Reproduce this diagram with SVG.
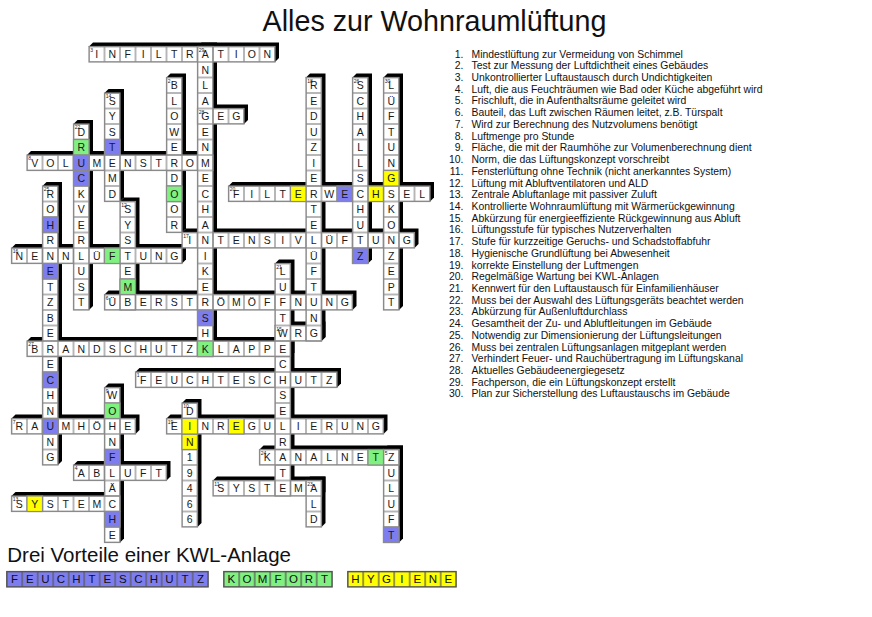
<svg xmlns="http://www.w3.org/2000/svg" width="872" height="617" viewBox="0 0 872 617">
<defs>
<pattern id="g" x="11.5" y="46.5" width="15.5" height="15.5" patternUnits="userSpaceOnUse"><rect width="15.5" height="15.5" fill="#fff" stroke="#8a8a8a" stroke-width="1.2"/></pattern>
<pattern id="lg" x="6.7" y="571.5" width="15.5" height="15.5" patternUnits="userSpaceOnUse"><rect width="15.5" height="15.5" fill="none" stroke="#555" stroke-width="1.2"/></pattern>
</defs>
<style>
.sh{fill:#000}
.w{fill:url(#g);stroke:#8a8a8a;stroke-width:1.2}
.b,.gr,.y{stroke:#8a8a8a;stroke-width:1.2}
.b{fill:#7d7df0}.gr{fill:#80f080}.y{fill:#ffff00}
.t{font-family:"Liberation Sans",Arial,sans-serif;font-size:10.5px;text-anchor:middle;fill:#1a1a1a}
.n{font-family:"Liberation Sans",Arial,sans-serif;font-size:5px;fill:#1a1a1a}
.cl{font-family:"Liberation Sans",Arial,sans-serif;font-size:10.4px;fill:#111}
.lgt{font-family:"Liberation Sans",Arial,sans-serif;font-size:11.5px;text-anchor:middle;fill:#111}
</style>
<rect width="872" height="617" fill="#fff"/>
<text x="434.5" y="31" font-family="Liberation Sans, Arial, sans-serif" font-size="28.7" text-anchor="middle" fill="#111">Alles zur Wohnraumlüftung</text>

<g id="shadows">
<path class="sh" d="M135.5 372l4-4h201.5v15.5l-4 4H135.5z"/>
<path class="sh" d="M166.5 77.5l4-4h15.5v155l-4 4H166.5z"/>
<path class="sh" d="M89 46.5l4-4h186v15.5l-4 4H89z"/>
<path class="sh" d="M73.5 465l4-4h93v15.5l-4 4H73.5z"/>
<path class="sh" d="M383.5 449.5l4-4h15.5v93l-4 4H383.5z"/>
<path class="sh" d="M104.5 294.5l4-4h248v15.5l-4 4H104.5z"/>
<path class="sh" d="M11.5 418.5l4-4h124v15.5l-4 4H11.5z"/>
<path class="sh" d="M27 155l4-4h186v15.5l-4 4H27z"/>
<path class="sh" d="M104.5 387.5l4-4h15.5v155l-4 4H104.5z"/>
<path class="sh" d="M182 403l4-4h15.5v124l-4 4H182z"/>
<path class="sh" d="M213 480.5l4-4h108.5v15.5l-4 4H213z"/>
<path class="sh" d="M120 201.5l4-4h15.5v108.5l-4 4H120z"/>
<path class="sh" d="M11.5 496l4-4h108.5v15.5l-4 4H11.5z"/>
<path class="sh" d="M104.5 93l4-4h15.5v108.5l-4 4H104.5z"/>
<path class="sh" d="M275 325.5l4-4h46.5v15.5l-4 4H275z"/>
<path class="sh" d="M11.5 248l4-4h170.5v15.5l-4 4H11.5z"/>
<path class="sh" d="M182 232.5l4-4h232.5v15.5l-4 4H182z"/>
<path class="sh" d="M306 77.5l4-4h15.5v263.5l-4 4H306z"/>
<path class="sh" d="M166.5 418.5l4-4h217v15.5l-4 4H166.5z"/>
<path class="sh" d="M228.5 186l4-4h201.5v15.5l-4 4H228.5z"/>
<path class="sh" d="M275 263.5l4-4h15.5v232.5l-4 4H275z"/>
<path class="sh" d="M73.5 124l4-4h15.5v186l-4 4H73.5z"/>
<path class="sh" d="M306 480.5l4-4h15.5v46.5l-4 4H306z"/>
<path class="sh" d="M259.5 449.5l4-4h139.5v15.5l-4 4H259.5z"/>
<path class="sh" d="M42.5 186l4-4h15.5v279l-4 4H42.5z"/>
<path class="sh" d="M352.5 77.5l4-4h15.5v186l-4 4H352.5z"/>
<path class="sh" d="M27 341l4-4h263.5v15.5l-4 4H27z"/>
<path class="sh" d="M197.5 108.5l4-4h46.5v15.5l-4 4H197.5z"/>
<path class="sh" d="M197.5 46.5l4-4h15.5v310l-4 4H197.5z"/>
<path class="sh" d="M383.5 77.5l4-4h15.5v232.5l-4 4H383.5z"/>
</g>

<g id="w1"><rect class="w" x="135.5" y="372" width="201.5" height="15.5"/><text class="t" x="143.25 158.75 174.25 189.75 205.25 220.75 236.25 251.75 267.25 282.75 298.25 313.75 329.25" y="383.5">FEUCHTESCHUTZ</text></g>
<g id="w2"><rect class="w" x="166.5" y="77.5" width="15.5" height="155"/><rect class="gr" x="166.5" y="186" width="15.5" height="15.5"/><text class="t" x="174.25 174.25 174.25 174.25 174.25 174.25 174.25 174.25 174.25 174.25" y="89 104.5 120 135.5 151 166.5 182 197.5 213 228.5">BLOWERDOOR</text></g>
<g id="w3"><rect class="w" x="89" y="46.5" width="186" height="15.5"/><text class="t" x="96.75 112.25 127.75 143.25 158.75 174.25 189.75 205.25 220.75 236.25 251.75 267.25" y="58">INFILTRATION</text></g>
<g id="w4"><rect class="w" x="73.5" y="465" width="93" height="15.5"/><text class="t" x="81.25 96.75 112.25 127.75 143.25 158.75" y="476.5">ABLUFT</text></g>
<g id="w5"><rect class="w" x="383.5" y="449.5" width="15.5" height="93"/><rect class="b" x="383.5" y="527" width="15.5" height="15.5"/><text class="t" x="391.25 391.25 391.25 391.25 391.25 391.25" y="461 476.5 492 507.5 523 538.5">ZULUFT</text></g>
<g id="w6"><rect class="w" x="104.5" y="294.5" width="248" height="15.5"/><text class="t" x="112.25 127.75 143.25 158.75 174.25 189.75 205.25 220.75 236.25 251.75 267.25 282.75 298.25 313.75 329.25 344.75" y="306">ÜBERSTRÖMÖFFNUNG</text></g>
<g id="w7"><rect class="w" x="11.5" y="418.5" width="124" height="15.5"/><rect class="b" x="42.5" y="418.5" width="15.5" height="15.5"/><text class="t" x="19.25 34.75 50.25 65.75 81.25 96.75 112.25 127.75" y="430">RAUMHÖHE</text></g>
<g id="w8"><rect class="w" x="27" y="155" width="186" height="15.5"/><rect class="b" x="73.5" y="155" width="15.5" height="15.5"/><text class="t" x="34.75 50.25 65.75 81.25 96.75 112.25 127.75 143.25 158.75 174.25 189.75 205.25" y="166.5">VOLUMENSTROM</text></g>
<g id="w9"><rect class="w" x="104.5" y="387.5" width="15.5" height="155"/><rect class="gr" x="104.5" y="403" width="15.5" height="15.5"/><rect class="b" x="104.5" y="449.5" width="15.5" height="15.5"/><rect class="b" x="104.5" y="511.5" width="15.5" height="15.5"/><text class="t" x="112.25 112.25 112.25 112.25 112.25 112.25 112.25 112.25 112.25 112.25" y="399 414.5 430 445.5 461 476.5 492 507.5 523 538.5">WOHNFLÄCHE</text></g>
<g id="w10"><rect class="w" x="182" y="403" width="15.5" height="124"/><rect class="y" x="182" y="418.5" width="15.5" height="15.5"/><rect class="y" x="182" y="434" width="15.5" height="15.5"/><text class="t" x="189.75 189.75 189.75 189.75 189.75 189.75 189.75 189.75" y="414.5 430 445.5 461 476.5 492 507.5 523">DIN19466</text></g>
<g id="w11"><rect class="w" x="213" y="480.5" width="108.5" height="15.5"/><text class="t" x="220.75 236.25 251.75 267.25 282.75 298.25 313.75" y="492">SYSTEMA</text></g>
<g id="w12"><rect class="w" x="120" y="201.5" width="15.5" height="108.5"/><rect class="gr" x="120" y="279" width="15.5" height="15.5"/><text class="t" x="127.75 127.75 127.75 127.75 127.75 127.75 127.75" y="213 228.5 244 259.5 275 290.5 306">SYSTEMB</text></g>
<g id="w13"><rect class="w" x="11.5" y="496" width="108.5" height="15.5"/><rect class="y" x="27" y="496" width="15.5" height="15.5"/><text class="t" x="19.25 34.75 50.25 65.75 81.25 96.75 112.25" y="507.5">SYSTEMC</text></g>
<g id="w14"><rect class="w" x="104.5" y="93" width="15.5" height="108.5"/><rect class="b" x="104.5" y="139.5" width="15.5" height="15.5"/><text class="t" x="112.25 112.25 112.25 112.25 112.25 112.25 112.25" y="104.5 120 135.5 151 166.5 182 197.5">SYSTEMD</text></g>
<g id="w15"><rect class="w" x="275" y="325.5" width="46.5" height="15.5"/><text class="t" x="282.75 298.25 313.75" y="337">WRG</text></g>
<g id="w16"><rect class="w" x="11.5" y="248" width="170.5" height="15.5"/><rect class="gr" x="104.5" y="248" width="15.5" height="15.5"/><text class="t" x="19.25 34.75 50.25 65.75 81.25 96.75 112.25 127.75 143.25 158.75 174.25" y="259.5">NENNLÜFTUNG</text></g>
<g id="w17"><rect class="w" x="182" y="232.5" width="232.5" height="15.5"/><text class="t" x="189.75 205.25 220.75 236.25 251.75 267.25 282.75 298.25 313.75 329.25 344.75 360.25 375.75 391.25 406.75" y="244">INTENSIVLÜFTUNG</text></g>
<g id="w18"><rect class="w" x="306" y="77.5" width="15.5" height="263.5"/><text class="t" x="313.75 313.75 313.75 313.75 313.75 313.75 313.75 313.75 313.75 313.75 313.75 313.75 313.75 313.75 313.75 313.75 313.75" y="89 104.5 120 135.5 151 166.5 182 197.5 213 228.5 244 259.5 275 290.5 306 321.5 337">REDUZIERTELÜFTUNG</text></g>
<g id="w19"><rect class="w" x="166.5" y="418.5" width="217" height="15.5"/><rect class="y" x="182" y="418.5" width="15.5" height="15.5"/><rect class="y" x="228.5" y="418.5" width="15.5" height="15.5"/><text class="t" x="174.25 189.75 205.25 220.75 236.25 251.75 267.25 282.75 298.25 313.75 329.25 344.75 360.25 375.75" y="430">EINREGULIERUNG</text></g>
<g id="w20"><rect class="w" x="228.5" y="186" width="201.5" height="15.5"/><rect class="y" x="290.5" y="186" width="15.5" height="15.5"/><rect class="b" x="337" y="186" width="15.5" height="15.5"/><rect class="y" x="368" y="186" width="15.5" height="15.5"/><text class="t" x="236.25 251.75 267.25 282.75 298.25 313.75 329.25 344.75 360.25 375.75 391.25 406.75 422.25" y="197.5">FILTERWECHSEL</text></g>
<g id="w21"><rect class="w" x="275" y="263.5" width="15.5" height="232.5"/><text class="t" x="282.75 282.75 282.75 282.75 282.75 282.75 282.75 282.75 282.75 282.75 282.75 282.75 282.75 282.75 282.75" y="275 290.5 306 321.5 337 352.5 368 383.5 399 414.5 430 445.5 461 476.5 492">LUFTWECHSELRATE</text></g>
<g id="w22"><rect class="w" x="73.5" y="124" width="15.5" height="186"/><rect class="gr" x="73.5" y="139.5" width="15.5" height="15.5"/><rect class="b" x="73.5" y="155" width="15.5" height="15.5"/><rect class="b" x="73.5" y="170.5" width="15.5" height="15.5"/><text class="t" x="81.25 81.25 81.25 81.25 81.25 81.25 81.25 81.25 81.25 81.25 81.25 81.25" y="135.5 151 166.5 182 197.5 213 228.5 244 259.5 275 290.5 306">DRUCKVERLUST</text></g>
<g id="w23"><rect class="w" x="306" y="480.5" width="15.5" height="46.5"/><text class="t" x="313.75 313.75 313.75" y="492 507.5 523">ALD</text></g>
<g id="w24"><rect class="w" x="259.5" y="449.5" width="139.5" height="15.5"/><rect class="gr" x="368" y="449.5" width="15.5" height="15.5"/><text class="t" x="267.25 282.75 298.25 313.75 329.25 344.75 360.25 375.75 391.25" y="461">KANALNETZ</text></g>
<g id="w25"><rect class="w" x="42.5" y="186" width="15.5" height="279"/><rect class="b" x="42.5" y="217" width="15.5" height="15.5"/><rect class="b" x="42.5" y="263.5" width="15.5" height="15.5"/><rect class="b" x="42.5" y="372" width="15.5" height="15.5"/><rect class="b" x="42.5" y="418.5" width="15.5" height="15.5"/><text class="t" x="50.25 50.25 50.25 50.25 50.25 50.25 50.25 50.25 50.25 50.25 50.25 50.25 50.25 50.25 50.25 50.25 50.25 50.25" y="197.5 213 228.5 244 259.5 275 290.5 306 321.5 337 352.5 368 383.5 399 414.5 430 445.5 461">ROHRNETZBERECHNUNG</text></g>
<g id="w26"><rect class="w" x="352.5" y="77.5" width="15.5" height="186"/><rect class="b" x="352.5" y="248" width="15.5" height="15.5"/><text class="t" x="360.25 360.25 360.25 360.25 360.25 360.25 360.25 360.25 360.25 360.25 360.25 360.25" y="89 104.5 120 135.5 151 166.5 182 197.5 213 228.5 244 259.5">SCHALLSCHUTZ</text></g>
<g id="w27"><rect class="w" x="27" y="341" width="263.5" height="15.5"/><rect class="gr" x="197.5" y="341" width="15.5" height="15.5"/><text class="t" x="34.75 50.25 65.75 81.25 96.75 112.25 127.75 143.25 158.75 174.25 189.75 205.25 220.75 236.25 251.75 267.25 282.75" y="352.5">BRANDSCHUTZKLAPPE</text></g>
<g id="w28"><rect class="w" x="197.5" y="108.5" width="46.5" height="15.5"/><text class="t" x="205.25 220.75 236.25" y="120">GEG</text></g>
<g id="w29"><rect class="w" x="197.5" y="46.5" width="15.5" height="310"/><rect class="b" x="197.5" y="310" width="15.5" height="15.5"/><rect class="gr" x="197.5" y="341" width="15.5" height="15.5"/><text class="t" x="205.25 205.25 205.25 205.25 205.25 205.25 205.25 205.25 205.25 205.25 205.25 205.25 205.25 205.25 205.25 205.25 205.25 205.25 205.25 205.25" y="58 73.5 89 104.5 120 135.5 151 166.5 182 197.5 213 228.5 244 259.5 275 290.5 306 321.5 337 352.5">ANLAGENMECHANIKERSHK</text></g>
<g id="w30"><rect class="w" x="383.5" y="77.5" width="15.5" height="232.5"/><rect class="y" x="383.5" y="170.5" width="15.5" height="15.5"/><text class="t" x="391.25 391.25 391.25 391.25 391.25 391.25 391.25 391.25 391.25 391.25 391.25 391.25 391.25 391.25 391.25" y="89 104.5 120 135.5 151 166.5 182 197.5 213 228.5 244 259.5 275 290.5 306">LÜFTUNGSKONZEPT</text></g>

<g id="numbers" class="n">
<text x="90.3" y="51.8">3</text><text x="198.8" y="51.8">29</text><text x="167.8" y="82.8">2</text><text x="307.3" y="82.8">18</text><text x="353.8" y="82.8">26</text><text x="384.8" y="82.8">30</text><text x="105.8" y="98.3">14</text><text x="198.8" y="113.8">28</text><text x="74.8" y="129.3">22</text><text x="28.3" y="160.3">8</text><text x="43.8" y="191.3">25</text><text x="229.8" y="191.3">20</text><text x="121.3" y="206.8">12</text><text x="183.3" y="237.8">17</text><text x="12.8" y="253.3">16</text><text x="276.3" y="268.8">21</text><text x="105.8" y="299.8">6</text><text x="276.3" y="330.8">15</text><text x="28.3" y="346.3">27</text><text x="136.8" y="377.3">1</text><text x="105.8" y="392.8">9</text><text x="183.3" y="408.3">10</text><text x="12.8" y="423.8">7</text><text x="167.8" y="423.8">19</text><text x="260.8" y="454.8">24</text><text x="384.8" y="454.8">5</text><text x="74.8" y="470.3">4</text><text x="214.3" y="485.8">11</text><text x="307.3" y="485.8">23</text><text x="12.8" y="501.3">13</text>
</g>

<g id="clues">
<text class="cl" text-anchor="end">
<tspan x="463.5" y="57.6">1.</tspan><tspan x="463.5" y="69.32">2.</tspan><tspan x="463.5" y="81.04">3.</tspan><tspan x="463.5" y="92.76">4.</tspan><tspan x="463.5" y="104.48">5.</tspan><tspan x="463.5" y="116.2">6.</tspan><tspan x="463.5" y="127.92">7.</tspan><tspan x="463.5" y="139.64">8.</tspan><tspan x="463.5" y="151.36">9.</tspan><tspan x="463.5" y="163.08">10.</tspan><tspan x="463.5" y="174.8">11.</tspan><tspan x="463.5" y="186.52">12.</tspan><tspan x="463.5" y="198.24">13.</tspan><tspan x="463.5" y="209.96">14.</tspan><tspan x="463.5" y="221.68">15.</tspan><tspan x="463.5" y="233.4">16.</tspan><tspan x="463.5" y="245.12">17.</tspan><tspan x="463.5" y="256.84">18.</tspan><tspan x="463.5" y="268.56">19.</tspan><tspan x="463.5" y="280.28">20.</tspan><tspan x="463.5" y="292">21.</tspan><tspan x="463.5" y="303.72">22.</tspan><tspan x="463.5" y="315.44">23.</tspan><tspan x="463.5" y="327.16">24.</tspan><tspan x="463.5" y="338.88">25.</tspan><tspan x="463.5" y="350.6">26.</tspan><tspan x="463.5" y="362.32">27.</tspan><tspan x="463.5" y="374.04">28.</tspan><tspan x="463.5" y="385.76">29.</tspan><tspan x="463.5" y="397.48">30.</tspan>
</text>
<text class="cl">
<tspan x="471.5" y="57.6">Mindestlüftung zur Vermeidung von Schimmel</tspan>
<tspan x="471.5" y="69.32">Test zur Messung der Luftdichtheit eines Gebäudes</tspan>
<tspan x="471.5" y="81.04">Unkontrollierter Luftaustausch durch Undichtigkeiten</tspan>
<tspan x="471.5" y="92.76">Luft, die aus Feuchträumen wie Bad oder Küche abgeführt wird</tspan>
<tspan x="471.5" y="104.48">Frischluft, die in Aufenthaltsräume geleitet wird</tspan>
<tspan x="471.5" y="116.2">Bauteil, das Luft zwischen Räumen leitet, z.B. Türspalt</tspan>
<tspan x="471.5" y="127.92">Wird zur Berechnung des Nutzvolumens benötigt</tspan>
<tspan x="471.5" y="139.64">Luftmenge pro Stunde</tspan>
<tspan x="471.5" y="151.36">Fläche, die mit der Raumhöhe zur Volumenberechnung dient</tspan>
<tspan x="471.5" y="163.08">Norm, die das Lüftungskonzept vorschreibt</tspan>
<tspan x="471.5" y="174.8">Fensterlüftung ohne Technik (nicht anerkanntes System)</tspan>
<tspan x="471.5" y="186.52">Lüftung mit Abluftventilatoren und ALD</tspan>
<tspan x="471.5" y="198.24">Zentrale Abluftanlage mit passiver Zuluft</tspan>
<tspan x="471.5" y="209.96">Kontrollierte Wohnraumlüftung mit Wärmerückgewinnung</tspan>
<tspan x="471.5" y="221.68">Abkürzung für energieeffiziente Rückgewinnung aus Abluft</tspan>
<tspan x="471.5" y="233.4">Lüftungsstufe für typisches Nutzerverhalten</tspan>
<tspan x="471.5" y="245.12">Stufe für kurzzeitige Geruchs- und Schadstoffabfuhr</tspan>
<tspan x="471.5" y="256.84">Hygienische Grundlüftung bei Abwesenheit</tspan>
<tspan x="471.5" y="268.56">korrekte Einstellung der Luftmengen</tspan>
<tspan x="471.5" y="280.28">Regelmäßige Wartung bei KWL-Anlagen</tspan>
<tspan x="471.5" y="292">Kennwert für den Luftaustausch für Einfamilienhäuser</tspan>
<tspan x="471.5" y="303.72">Muss bei der Auswahl des Lüftungsgeräts beachtet werden</tspan>
<tspan x="471.5" y="315.44">Abkürzung für Außenluftdurchlass</tspan>
<tspan x="471.5" y="327.16">Gesamtheit der Zu- und Abluftleitungen im Gebäude</tspan>
<tspan x="471.5" y="338.88">Notwendig zur Dimensionierung der Lüftungsleitungen</tspan>
<tspan x="471.5" y="350.6">Muss bei zentralen Lüftungsanlagen mitgeplant werden</tspan>
<tspan x="471.5" y="362.32">Verhindert Feuer- und Rauchübertragung im Lüftungskanal</tspan>
<tspan x="471.5" y="374.04">Aktuelles Gebäudeenergiegesetz</tspan>
<tspan x="471.5" y="385.76">Fachperson, die ein Lüftungskonzept erstellt</tspan>
<tspan x="471.5" y="397.48">Plan zur Sicherstellung des Luftaustauschs im Gebäude</tspan>
</text>
</g>

<g id="legend">
<text x="7.3" y="561.7" font-family="Liberation Sans, Arial, sans-serif" font-size="20.5" fill="#111">Drei Vorteile einer KWL-Anlage</text>
<g id="lg-feuchteschutz"><rect x="6.7" y="571.5" width="201.5" height="15.5" fill="#7d7df0"/><rect x="6.7" y="571.5" width="201.5" height="15.5" fill="url(#lg)" stroke="#555" stroke-width="1.2"/><text class="lgt" x="14.45 29.95 45.45 60.95 76.45 91.95 107.45 122.95 138.45 153.95 169.45 184.95 200.45" y="583.3">FEUCHTESCHUTZ</text></g>
<g id="lg-komfort"><rect x="223.7" y="571.5" width="108.5" height="15.5" fill="#80f080"/><rect x="223.7" y="571.5" width="108.5" height="15.5" fill="url(#lg)" stroke="#555" stroke-width="1.2"/><text class="lgt" x="231.45 246.95 262.45 277.95 293.45 308.95 324.45" y="583.3">KOMFORT</text></g>
<g id="lg-hygiene"><rect x="347.7" y="571.5" width="108.5" height="15.5" fill="#ffff00"/><rect x="347.7" y="571.5" width="108.5" height="15.5" fill="url(#lg)" stroke="#555" stroke-width="1.2"/><text class="lgt" x="355.45 370.95 386.45 401.95 417.45 432.95 448.45" y="583.3">HYGIENE</text></g>
</g>
</svg>
